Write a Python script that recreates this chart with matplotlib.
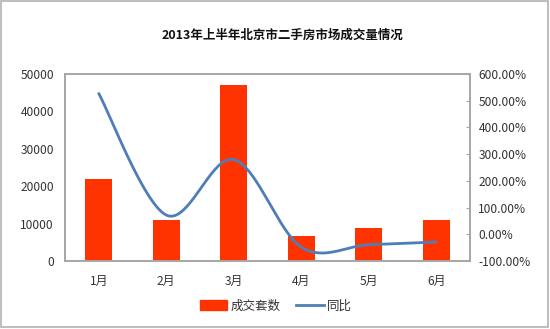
import numpy as np
import matplotlib
matplotlib.use("Agg")
import matplotlib.pyplot as plt
from matplotlib.patches import Rectangle
from matplotlib.lines import Line2D
from matplotlib.ticker import FuncFormatter

plt.rcParams['font.family'] = ['Noto Sans CJK SC', 'DejaVu Sans']

months = ['1月', '2月', '3月', '4月', '5月', '6月']
deals = [22000, 11000, 47000, 6800, 8900, 11000]
yoy_pct = [527, 72, 280, -48, -39, -29]

title = '2013年上半年北京市二手房市场成交量情况'
bar_label = '成交套数'
line_label = '同比'

bar_color = '#FF3300'
line_color = '#4F7DB8'
axis_gray = '#A6A6A6'


def smooth_curve(x, y, steps=40):
    """Catmull-Rom style Bezier smoothing through every point."""
    x = np.asarray(x, float)
    y = np.asarray(y, float)
    n = len(x)
    xs, ys = [], []
    for i in range(n - 1):
        p0 = np.array([x[max(i - 1, 0)], y[max(i - 1, 0)]])
        p1 = np.array([x[i], y[i]])
        p2 = np.array([x[i + 1], y[i + 1]])
        p3 = np.array([x[min(i + 2, n - 1)], y[min(i + 2, n - 1)]])
        c1 = p1 + (p2 - p0) / 6.0
        c2 = p2 - (p3 - p1) / 6.0
        t = np.linspace(0, 1, steps)[:, None]
        pts = ((1 - t) ** 3) * p1 + 3 * ((1 - t) ** 2) * t * c1 + 3 * (1 - t) * t ** 2 * c2 + t ** 3 * p2
        xs.extend(pts[:, 0])
        ys.extend(pts[:, 1])
    return np.array(xs), np.array(ys)


fig = plt.figure(figsize=(5.5, 3.29), dpi=100)
fig.patch.set_facecolor('white')
fig.add_artist(Rectangle((0.002, 0.006), 0.995, 0.99, transform=fig.transFigure,
                         fill=False, edgecolor='#BFBFBF', linewidth=1.5))

ax = fig.add_axes([65 / 550, 1 - 261 / 329, 405 / 550, 187 / 329])
x = np.arange(len(months))
ax.bar(x, deals, width=0.4, color=bar_color, zorder=2)
ax.set_xlim(-0.5, len(months) - 0.5)
ax.set_ylim(0, 50000)
ax.set_yticks(np.arange(0, 50001, 10000))
ax.set_xticks(x)
ax.set_xticklabels(months)
ax.tick_params(axis='y', length=0, labelsize=8.6, colors='#333333', pad=8)
ax.tick_params(axis='x', length=0, labelsize=8.6, colors='#333333', pad=10)
for s in ax.spines.values():
    s.set_color(axis_gray)
    s.set_linewidth(1.2)

ax2 = ax.twinx()
sx, sy = smooth_curve(x, yoy_pct)
ax2.plot(sx, sy, color=line_color, linewidth=2.0, solid_capstyle='round', zorder=3)
ax2.set_ylim(-100, 600)
ax2.set_yticks(np.arange(-100, 601, 100))
ax2.yaxis.set_major_formatter(FuncFormatter(lambda v, p: f'{v:.2f}%'))
ax2.tick_params(axis='y', direction='in', length=3, color=axis_gray, labelsize=8.6,
                labelcolor='#333333', pad=6)
for s in ax2.spines.values():
    s.set_color(axis_gray)
    s.set_linewidth(1.2)

fig.text(283 / 550, 1 - 35 / 329, title, ha='center', va='center',
         fontsize=9, fontweight='bold', color='#111111')

handles = [Rectangle((0, 0), 1, 1, color=bar_color),
           Line2D([0], [0], color=line_color, linewidth=2.0)]
fig.legend(handles, [bar_label, line_label], loc='center',
           bbox_to_anchor=(276 / 550, 1 - 306 / 329), ncol=2, frameon=False,
           fontsize=9, handlelength=2.2, handleheight=0.9, columnspacing=1.2,
           handletextpad=0.3, labelcolor='#333333')

fig.savefig('out.png', dpi=100, facecolor='white')
